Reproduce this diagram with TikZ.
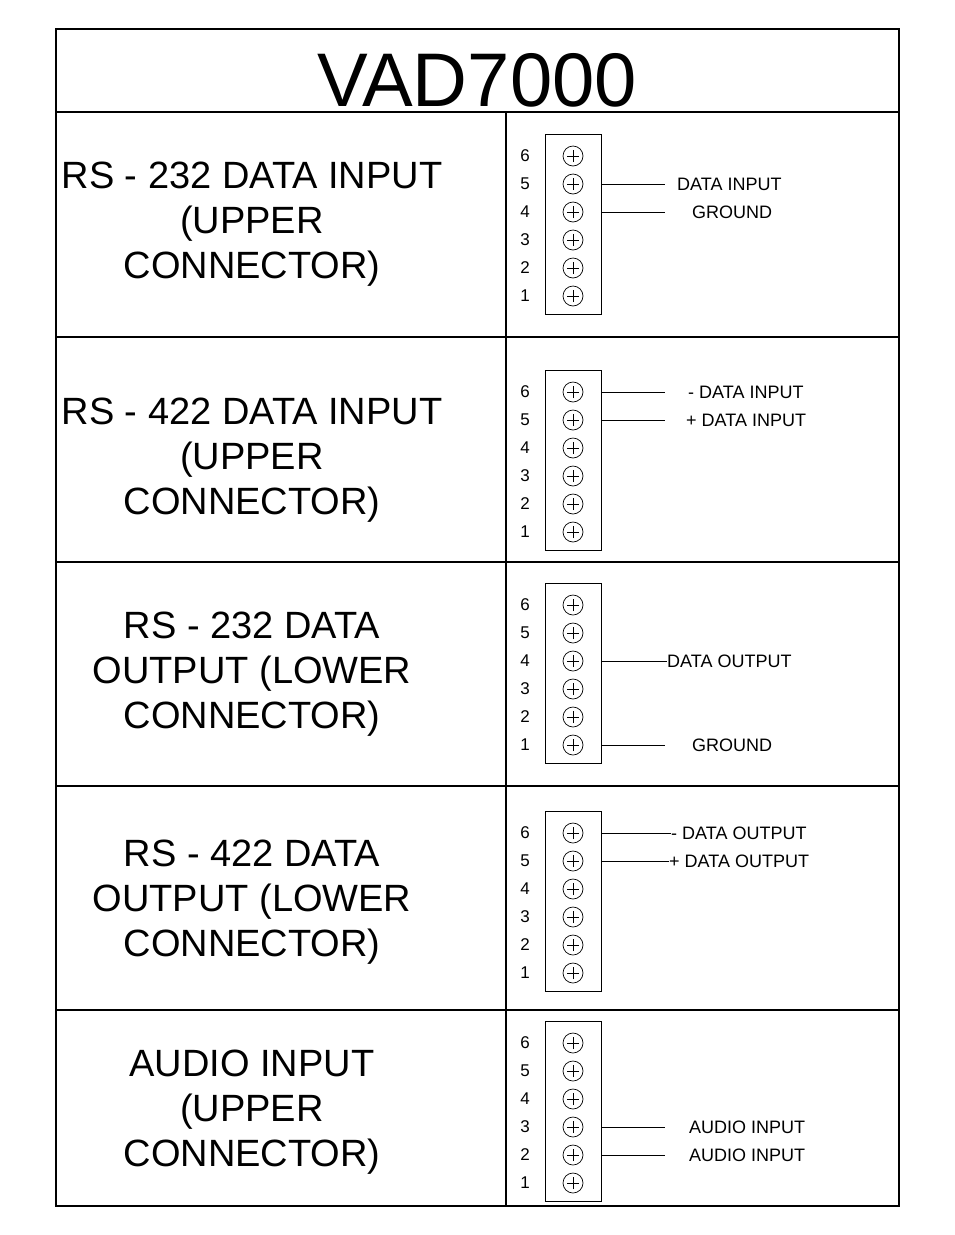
\documentclass[tikz,border=0pt]{standalone}
\usepackage{fontspec}
\setmainfont{Liberation Sans}
\usetikzlibrary{positioning}

\tikzset{
  frame/.style={line width=2.5pt},
  pinbox/.style={draw, line width=0.8pt},
  pin/.style={draw, circle, minimum size=20pt, inner sep=0pt, line width=0.7pt,
    path picture={\draw[line width=0.7pt] ([xshift=-6pt]path picture bounding box.center) -- ([xshift=6pt]path picture bounding box.center)
      ([yshift=-6pt]path picture bounding box.center) -- ([yshift=6pt]path picture bounding box.center);}},
  pinno/.style={font=\fontsize{17}{17}\selectfont, inner sep=0pt},
  sig/.style={font=\fontsize{18}{18}\selectfont, anchor=west, inner sep=0pt},
  rowtitle/.style={align=center, font=\fontsize{38}{45}\selectfont}
}

% #1 row name, #2 y of pin 6
\newcommand{\pinblock}[2]{%
  \draw[pinbox] (545,#2-22) rectangle (601,#2+158);
  \foreach \k in {1,...,6}{
    \node[pin] (#1p\k) at (573,{#2+(6-\k)*28}) {};
    \node[pinno] (#1n\k) at (525,{#2+(6-\k)*28}) {\k};
  }%
}

\begin{document}
\begin{tikzpicture}[x=1pt,y=-1pt]
\useasboundingbox (0,0) rectangle (954,1235);

% frame and rows
\draw[frame] (56,29) rectangle (899,1206);
\draw[frame] (56,112) -- (899,112);
\foreach \y in {337,562,786,1010}{
  \draw[frame] (56,\y) -- (899,\y);
}
\draw[frame] (506,112) -- (506,1206);

% title
\node[font=\fontsize{76}{76}\selectfont] (title) at (477,80) {VAD7000};

% row titles
\node[rowtitle] (r1) at (252,224) {RS - 232 DATA INPUT\\(UPPER\\CONNECTOR)};
\node[rowtitle] (r2) at (252,460) {RS - 422 DATA INPUT\\(UPPER\\CONNECTOR)};
\node[rowtitle] (r3) at (252,674) {RS - 232 DATA\\OUTPUT (LOWER\\CONNECTOR)};
\node[rowtitle] (r4) at (252,902) {RS - 422 DATA\\OUTPUT (LOWER\\CONNECTOR)};
\node[rowtitle] (r5) at (252,1112) {AUDIO INPUT\\(UPPER\\CONNECTOR)};

% connectors
\pinblock{a}{156}
\pinblock{b}{392}
\pinblock{c}{605}
\pinblock{d}{833}
\pinblock{e}{1043}

% signals
\node[sig] (a5s) at (677,184) {DATA INPUT};
\node[sig] (a4s) at (692,212) {GROUND};
\draw (601,184) -- (665,184);
\draw (601,212) -- (665,212);

\node[sig] (b6s) at (688,392) {- DATA INPUT};
\node[sig] (b5s) at (686,420) {+ DATA INPUT};
\draw (601,392) -- (665,392);
\draw (601,420) -- (665,420);

\node[sig] (c4s) at (667,661) {DATA OUTPUT};
\node[sig] (c1s) at (692,745) {GROUND};
\draw (601,661) -- (c4s.west);
\draw (601,745) -- (665,745);

\node[sig] (d6s) at (671,833) {- DATA OUTPUT};
\node[sig] (d5s) at (669,861) {+ DATA OUTPUT};
\draw (601,833) -- (d6s.west);
\draw (601,861) -- (d5s.west);

\node[sig] (e3s) at (689,1127) {AUDIO INPUT};
\node[sig] (e2s) at (689,1155) {AUDIO INPUT};
\draw (601,1127) -- (665,1127);
\draw (601,1155) -- (665,1155);

\end{tikzpicture}
\end{document}
